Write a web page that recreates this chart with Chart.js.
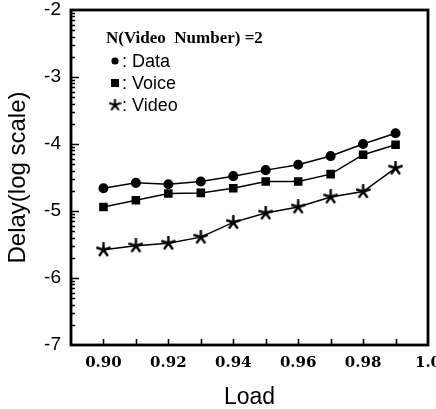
<!DOCTYPE html>
<html>
<head>
<meta charset="utf-8">
<script src="https://cdn.jsdelivr.net/npm/chart.js@4/dist/chart.umd.min.js"></script>
<style>
html,body{margin:0;padding:0;background:#fff;}
#wrap{width:436px;height:409px;}
</style>
</head>
<body>
<div id="wrap"><canvas id="c" width="436" height="409"></canvas></div>
<script>
// ---- data ----
const loads = [0.90, 0.91, 0.92, 0.93, 0.94, 0.95, 0.96, 0.97, 0.98, 0.99];
const dataDelay  = [-4.66, -4.58, -4.60, -4.56, -4.48, -4.39, -4.31, -4.18, -4.00, -3.84];
const voiceDelay = [-4.94, -4.84, -4.74, -4.73, -4.66, -4.56, -4.56, -4.45, -4.16, -4.01];
const videoDelay = [-5.58, -5.52, -5.48, -5.39, -5.17, -5.03, -4.94, -4.79, -4.71, -4.36];
const seriesNames = ['Data', 'Voice', 'Video'];
const headingText = 'N(Video  Number) =2';
const xTickLabels = {90: '0.90', 92: '0.92', 94: '0.94', 96: '0.96', 98: '0.98', 100: '1.0'};
const yMin = -7, yMax = -2;
const xMin = 0.89, xMax = 1.0;

function starCanvas(size, lw) {
  const c = document.createElement('canvas');
  c.width = size; c.height = size;
  const g = c.getContext('2d');
  const r = size / 2 - 1;
  g.strokeStyle = '#000'; g.lineWidth = lw; g.lineCap = 'round';
  g.beginPath();
  for (let k = 0; k < 5; k++) {
    const a = -Math.PI / 2 + k * 2 * Math.PI / 5;
    g.moveTo(size / 2, size / 2);
    g.lineTo(size / 2 + r * Math.cos(a), size / 2 + r * Math.sin(a));
  }
  g.stroke();
  g.fillStyle = '#000';
  g.beginPath(); g.arc(size / 2, size / 2, lw * 0.9, 0, Math.PI * 2); g.fill();
  return c;
}
const starPlot = starCanvas(15, 2.4);
const starLegend = starCanvas(13, 2.1);

const toXY = (ys) => loads.map((x, i) => ({x: x, y: ys[i]}));

const frameAndTicks = {
  id: 'frameAndTicks',
  afterDatasetsDraw(chart) {
    const ctx = chart.ctx, a = chart.chartArea;
    const xs = chart.scales.x, ys = chart.scales.y;
    ctx.save();
    ctx.strokeStyle = '#000';
    // inward x ticks
    ctx.lineWidth = 1.6;
    ctx.beginPath();
    for (let n = 90; n <= 99; n++) {
      const px = Math.round(xs.getPixelForValue(n / 100)) + 0.5;
      ctx.moveTo(px, a.bottom); ctx.lineTo(px, a.bottom - 6);
    }
    ctx.stroke();
    // inward y ticks: majors and log-decade minors
    ctx.beginPath();
    for (let d = yMin; d < yMax; d++) {
      for (let k = 2; k <= 9; k++) {
        const v = d + Math.log10(k);
        const py = Math.round(ys.getPixelForValue(v)) + 0.5;
        ctx.moveTo(a.left, py); ctx.lineTo(a.left + 4, py);
      }
      if (d > yMin) {
        const py = Math.round(ys.getPixelForValue(d)) + 0.5;
        ctx.moveTo(a.left, py); ctx.lineTo(a.left + 8, py);
      }
    }
    ctx.stroke();
    // frame
    ctx.lineWidth = 2.8;
    ctx.strokeRect(a.left, a.top, a.right - a.left, a.bottom - a.top);
    // heading + legend
    ctx.fillStyle = '#000';
    ctx.textBaseline = 'alphabetic';
    ctx.textAlign = 'left';
    ctx.font = 'bold 17px "Liberation Serif", serif';
    ctx.fillText(headingText, 106, 43);
    ctx.font = '18px "Liberation Sans", Arial, sans-serif';
    const baselines = [67, 89, 111];
    baselines.forEach((b, i) => {
      const cy = b - 6;
      if (i === 0) { ctx.beginPath(); ctx.arc(115, cy, 3.6, 0, Math.PI * 2); ctx.fill(); }
      else if (i === 1) { ctx.fillRect(111, cy - 4, 8, 8); }
      else { ctx.drawImage(starLegend, 115 - 6.5, cy - 6.5); }
      ctx.fillText(': ' + seriesNames[i], 122, b);
    });
    ctx.restore();
  }
};

new Chart(document.getElementById('c'), {
  type: 'line',
  data: {
    datasets: [
      {label: seriesNames[0], data: toXY(dataDelay), borderColor: '#000', backgroundColor: '#000',
       borderWidth: 1.5, pointStyle: 'circle', pointRadius: 4.3, tension: 0},
      {label: seriesNames[1], data: toXY(voiceDelay), borderColor: '#000', backgroundColor: '#000',
       borderWidth: 1.5, pointStyle: 'rect', pointRadius: 5, tension: 0},
      {label: seriesNames[2], data: toXY(videoDelay), borderColor: '#000', backgroundColor: '#000',
       borderWidth: 1.5, pointStyle: starPlot, tension: 0}
    ]
  },
  options: {
    responsive: false,
    animation: false,
    devicePixelRatio: 1,
    layout: {padding: {left: 0, right: 8, top: 10, bottom: 0}},
    plugins: {legend: {display: false}, tooltip: {enabled: false}},
    scales: {
      x: {
        type: 'linear', min: xMin, max: xMax,
        grid: {display: false, drawTicks: false},
        border: {display: false},
        ticks: {
          stepSize: 0.01, autoSkip: false, maxRotation: 0, padding: 9,
          color: '#000',
          font: {family: '"DejaVu Serif", serif', size: 15, weight: 'bold'},
          callback: (v) => xTickLabels[Math.round(v * 100)] || ''
        },
        title: {display: true, text: 'Load', color: '#000',
          font: {family: '"Liberation Sans", Arial, sans-serif', size: 23, lineHeight: 1},
          padding: {top: 0, bottom: 0}},
        afterFit(s) { s.height = 64; s.paddingLeft = 0; s.paddingRight = 0; }
      },
      y: {
        type: 'linear', min: yMin, max: yMax,
        grid: {display: false, drawTicks: false},
        border: {display: false},
        ticks: {
          stepSize: 1, padding: 10, color: '#000',
          font: {family: '"Liberation Sans", Arial, sans-serif', size: 19},
          callback: (v) => String(v)
        },
        title: {display: true, text: 'Delay(log scale)', color: '#000',
          font: {family: '"Liberation Sans", Arial, sans-serif', size: 24, lineHeight: 1},
          padding: {top: 6, bottom: 0}},
        afterFit(s) { s.width = 71; s.paddingTop = 0; s.paddingBottom = 0; }
      }
    }
  },
  plugins: [frameAndTicks]
});
</script>
</body>
</html>
